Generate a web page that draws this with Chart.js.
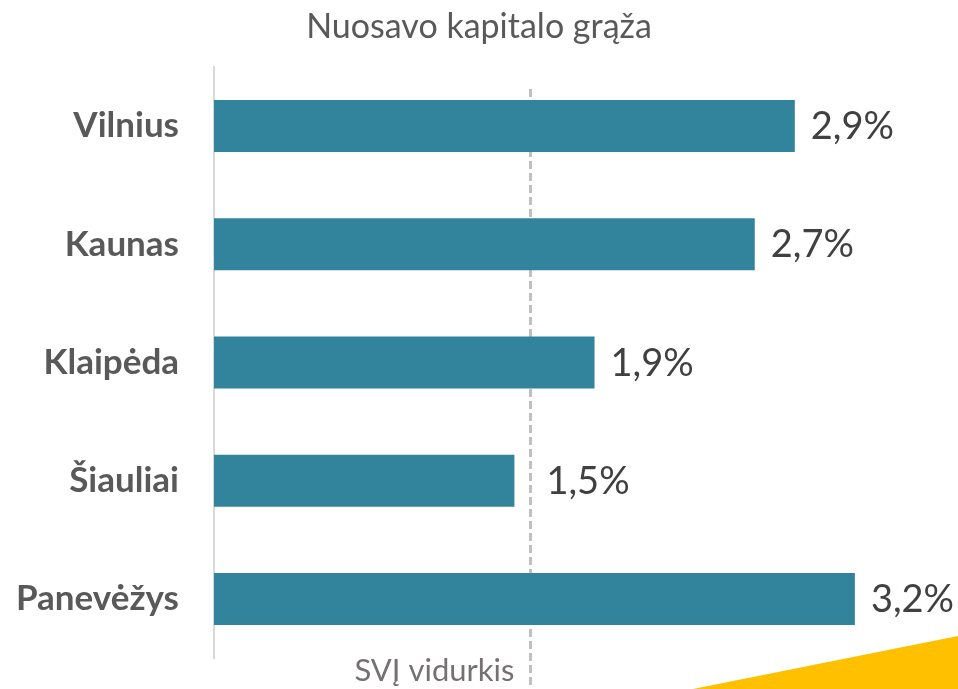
<!DOCTYPE html>
<html>
<head>
<meta charset="utf-8">
<script src="https://cdn.jsdelivr.net/npm/chart.js@4/dist/chart.umd.min.js"></script>
<style>
html,body{margin:0;padding:0;background:#fff;}
#wrap{width:958px;height:689px;position:relative;}
canvas{display:block;}
</style>
</head>
<body>
<div id="wrap"><canvas id="c" width="958" height="689"></canvas></div>
<script>
const chartTitle = 'Nuosavo kapitalo grąža';
const categories = ['Vilnius', 'Kaunas', 'Klaipėda', 'Šiauliai', 'Panevėžys'];
const values = [2.9, 2.7, 1.9, 1.5, 3.2];
const averageValue = 1.58;
const averageLabel = 'SVĮ vidurkis';

const FONT = 'Lato, "Open Sans", sans-serif';

const decorPlugin = {
  id: 'decor',
  beforeDatasetsDraw(chart) {
    const ctx = chart.ctx;
    const xs = chart.scales.x;
    const ax = Math.round(xs.getPixelForValue(averageValue)) + 0.5;
    ctx.save();
    ctx.strokeStyle = '#c0c0c0';
    ctx.lineWidth = 3;
    ctx.setLineDash([8, 4]);
    ctx.beginPath();
    ctx.moveTo(ax, 89);
    ctx.lineTo(ax, chart.height);
    ctx.stroke();
    ctx.restore();
  },
  afterDraw(chart) {
    const ctx = chart.ctx;
    const xs = chart.scales.x;
    const ax = xs.getPixelForValue(averageValue);
    ctx.save();
    // title
    ctx.fillStyle = '#595959';
    ctx.font = '34px ' + FONT;
    ctx.textAlign = 'center';
    ctx.textBaseline = 'alphabetic';
    ctx.fillText(chartTitle, chart.width / 2, 38);
    // average label
    ctx.fillStyle = '#767171';
    ctx.font = '31px ' + FONT;
    ctx.textAlign = 'right';
    ctx.fillText(averageLabel, ax - 16, 681);
    // value labels
    const meta = chart.getDatasetMeta(0);
    ctx.fillStyle = '#404040';
    ctx.font = '38px ' + FONT;
    ctx.textAlign = 'left';
    meta.data.forEach((bar, i) => {
      const x = Math.max(bar.x, ax) + 16;
      const txt = values[i].toFixed(1).replace('.', ',') + '%';
      ctx.fillText(txt, x, bar.y + 13);
    });
    // yellow corner
    ctx.fillStyle = '#FFC000';
    ctx.beginPath();
    ctx.moveTo(693, chart.height);
    ctx.lineTo(chart.width, 636);
    ctx.lineTo(chart.width, chart.height);
    ctx.closePath();
    ctx.fill();
    ctx.restore();
  }
};

new Chart(document.getElementById('c'), {
  type: 'bar',
  data: {
    labels: categories,
    datasets: [{
      data: values,
      backgroundColor: '#31849B',
      borderWidth: 0,
      categoryPercentage: 1,
      barPercentage: 0.44
    }]
  },
  options: {
    indexAxis: 'y',
    responsive: false,
    animation: false,
    devicePixelRatio: 1,
    layout: { padding: { top: 67, bottom: 31, left: 0, right: 23 } },
    plugins: {
      legend: { display: false },
      title: { display: false },
      tooltip: { enabled: false }
    },
    scales: {
      x: {
        display: false,
        min: 0,
        max: 3.6
      },
      y: {
        afterFit(scale) { scale.width = 214; scale.paddingTop = 0; scale.paddingBottom = 0; },
        grid: { display: false, drawTicks: false },
        border: { display: true, color: '#d9d9d9', width: 2 },
        ticks: {
          padding: 35,
          color: '#595959',
          font: { family: FONT, size: 35, weight: 'bold' }
        }
      }
    }
  },
  plugins: [decorPlugin]
});
</script>
</body>
</html>
